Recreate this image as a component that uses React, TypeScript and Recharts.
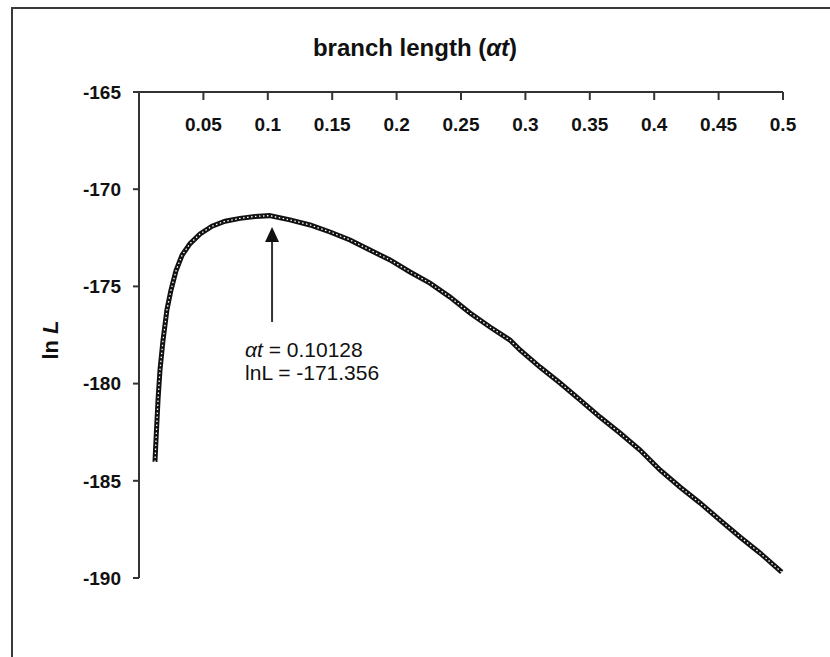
import { LineChart, Line, XAxis, YAxis, ReferenceLine, ReferenceDot } from "recharts";

// values
const branchLength = [
  0.0124, 0.0132, 0.0148, 0.0163, 0.0186, 0.0217, 0.0248, 0.0287, 0.0334, 0.0396,
  0.0474, 0.0567, 0.0668, 0.0784, 0.0901, 0.1013, 0.1172, 0.1328, 0.1483, 0.1638,
  0.1793, 0.1949, 0.2104, 0.2259, 0.2415, 0.257, 0.2725, 0.288, 0.2958, 0.3113,
  0.3269, 0.3424, 0.3579, 0.3734, 0.389, 0.4045, 0.42, 0.4356, 0.4511, 0.4666,
  0.4821, 0.499,
];
const lnL = [
  -184.03, -182.9, -180.8, -179.3, -177.8, -176.2, -175.2, -174.2, -173.4, -172.8,
  -172.3, -171.9, -171.65, -171.5, -171.4, -171.36, -171.58, -171.84, -172.2, -172.61,
  -173.13, -173.64, -174.26, -174.83, -175.55, -176.37, -177.09, -177.76, -178.27, -179.15,
  -179.97, -180.84, -181.72, -182.54, -183.42, -184.44, -185.32, -186.14, -187.02, -187.89,
  -188.71, -189.7,
];
const xTicks = [0.05, 0.1, 0.15, 0.2, 0.25, 0.3, 0.35, 0.4, 0.45, 0.5];
const yTicks = [-190, -185, -180, -175, -170, -165];

// annotation
const arrowX = 0.1033;
const arrowTail = -176.83;
const arrowHead = -172.7;
const arrowTip = -171.94;
const mleAt = "0.10128";
const mleLnL = "-171.356";

const data = branchLength.map((x, i) => ({ x, y: lnL[i] }));

const FONT = "'Liberation Sans', Arial, sans-serif";
const AXIS = "#333";

const ArrowHead = (props: any) => {
  const { cx, cy } = props;
  return <polygon points={`${cx},${cy} ${cx - 7},${cy + 15} ${cx + 7},${cy + 15}`} fill="#111" />;
};

const Note = (props: any) => {
  const { cx, cy } = props;
  return (
    <text x={cx - 27} fontFamily={FONT} fontSize={21} fill="#111">
      <tspan x={cx - 27} y={cy + 35}>
        <tspan fontStyle="italic">αt</tspan> = {mleAt}
      </tspan>
      <tspan x={cx - 27} y={cy + 58}>lnL = {mleLnL}</tspan>
    </text>
  );
};

export default function App() {
  return (
    <div style={{ position: "absolute", left: 0, top: 0, width: 830, height: 657, overflow: "hidden", background: "#fff" }}>
      <div style={{ position: "absolute", left: 11, top: 7, width: 900, height: 800, border: "2px solid #3a3a3a" }} />
      <div
        style={{
          position: "absolute", left: 0, top: 34, width: 830, textAlign: "center",
          fontFamily: FONT, fontWeight: "bold", fontSize: 24, color: "#111",
        }}
      >
        branch length (<i>αt</i>)
      </div>
      <div
        style={{
          position: "absolute", left: 51, top: 340, transform: "translate(-50%, -50%) rotate(-90deg)",
          fontFamily: FONT, fontWeight: "bold", fontSize: 22, color: "#111", whiteSpace: "nowrap",
        }}
      >
        ln <i>L</i>
      </div>
      <LineChart
        width={830}
        height={657}
        data={data}
        margin={{ top: 92, right: 47, bottom: 79, left: 0 }}
        style={{ position: "absolute", left: 0, top: 0 }}
      >
        <XAxis
          dataKey="x"
          type="number"
          orientation="top"
          mirror
          domain={[0, 0.5]}
          ticks={xTicks}
          tickSize={8}
          tickMargin={18}
          stroke={AXIS}
          strokeWidth={2}
          tick={{ fill: "#111", fontSize: 19, fontWeight: "bold", fontFamily: FONT }}
          tickFormatter={(v) => String(v)}
        />
        <YAxis
          type="number"
          width={139}
          domain={[-190, -165]}
          ticks={yTicks}
          tickSize={6}
          tickMargin={12}
          stroke={AXIS}
          strokeWidth={2}
          tick={{ fill: "#111", fontSize: 19, fontWeight: "bold", fontFamily: FONT }}
        />
        <Line dataKey="y" type="linear" stroke="#111" strokeWidth={5} dot={false} isAnimationActive={false} />
        <Line
          dataKey="y"
          type="linear"
          stroke="#fff"
          strokeWidth={1.3}
          strokeDasharray="1.5 2.5"
          dot={false}
          isAnimationActive={false}
        />
        <ReferenceLine
          segment={[{ x: arrowX, y: arrowTail }, { x: arrowX, y: arrowHead }]}
          stroke="#333"
          strokeWidth={2}
        />
        <ReferenceDot x={arrowX} y={arrowTip} r={1} shape={ArrowHead} />
        <ReferenceDot x={arrowX} y={arrowTail} r={1} shape={Note} />
      </LineChart>
    </div>
  );
}
